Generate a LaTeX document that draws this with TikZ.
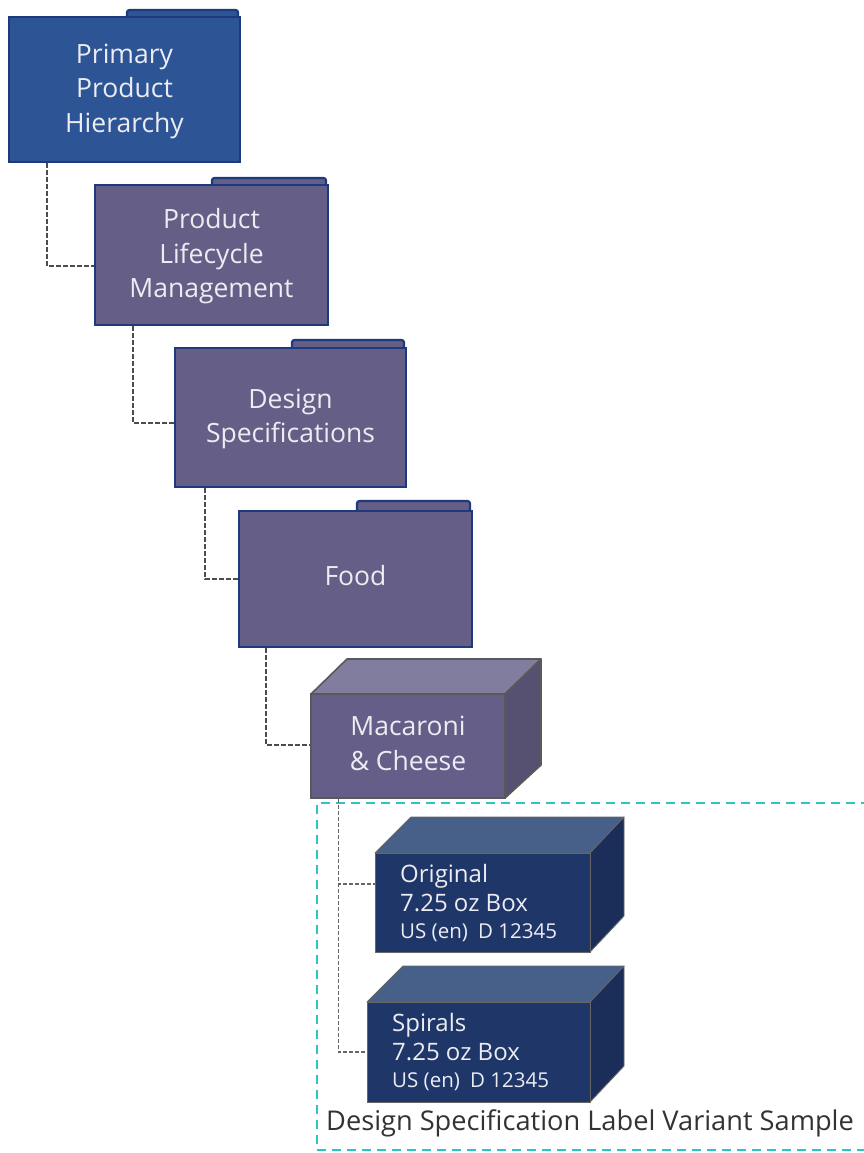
\documentclass[tikz,border=0pt]{standalone}
\usepackage{fontspec}
\setmainfont{Open Sans}
\usetikzlibrary{calc}
\definecolor{navyline}{HTML}{1F3A7C}
\definecolor{rootfill}{HTML}{2D5596}
\definecolor{purplefill}{HTML}{655E86}
\definecolor{boxfront}{HTML}{1F3768}
\definecolor{boxtop}{HTML}{47608A}
\definecolor{boxside}{HTML}{1B2E5A}
\definecolor{macfront}{HTML}{655E88}
\definecolor{mactop}{HTML}{817D9F}
\definecolor{macside}{HTML}{565170}
\definecolor{labeltext}{HTML}{ECECF2}
\definecolor{cyanline}{HTML}{2CC4C8}
\tikzset{
  folderbody/.style={draw=navyline,line width=1.8pt,inner sep=0pt},
  bigtext/.style={inner sep=0pt,align=center,text=labeltext,font=\fontsize{26.5}{34.5}\selectfont},
  foldertab/.style={draw=navyline,line width=2.2pt},
  conn/.style={draw=black!70,line width=1.8pt,dash pattern=on 5pt off 2pt},
  thinconn/.style={draw=black!60,line width=1.3pt,dash pattern=on 4pt off 2pt},
  macface/.style={draw=black!65,line width=1.6pt,line join=round},
  vface/.style={draw=black!60,line width=.9pt,line join=round},
  maclabel/.style={draw=black!65,line width=1.6pt,fill=macfront,inner sep=0pt},
  varbody/.style={draw=black!60,line width=.9pt,fill=boxfront,inner sep=0pt},
  vartext/.style={inner sep=0pt,align=left,text=labeltext,anchor=north west},
}
% #1 name, #2 fill, #3 left, #4 top, #5 right, #6 bottom, #7 tab left, #8 tab top, #9 text
\newcommand{\folderbox}[9]{%
  \path[foldertab,fill=#2,rounded corners=2.5pt] (#7,{#4+2}) -- (#7,#8) -- ({#5-2},#8) -- ({#5-2},{#4+2}) -- cycle;
  \node[folderbody,fill=#2,minimum width=#5pt-#3pt,minimum height=#6pt-#4pt] (#1) at ({(#3+#5)/2},{(#4+#6)/2}) {};
  \node[bigtext] (#1t) at ([yshift=\textlift pt]#1.center) {#9};
}
% #1 name, #2 left, #3 top, #4 right, #5 bottom, #6 first line, #7 small line
\newcommand{\variantbox}[7]{%
  \path[vface,fill=boxtop] (#2,#3) -- ({#2+36},{#3-36}) -- (624,{#3-36}) -- (#4,#3) -- cycle;
  \path[vface,fill=boxside] (#4,#3) -- (624,{#3-36}) -- (624,{#5-36}) -- (#4,#5) -- cycle;
  \node[varbody,minimum width=#4pt-#2pt,minimum height=#5pt-#3pt] (#1) at ({(#2+#4)/2},{(#3+#5)/2}) {};
  \node[vartext] (#1t) at ({#2+25},{#3+11}) {\fontsize{24}{29}\selectfont #6\\[5pt]\fontsize{24}{29}\selectfont 7.25 oz Box\\[11pt]\fontsize{20.5}{29}\selectfont #7};
}
\begin{document}
\begin{tikzpicture}[x=1pt,y=-1pt]
\useasboundingbox (0,0) rectangle (864,1153);
\fill[white] (0,0) rectangle (864,1153);
\def\textlift{-1.5}
\folderbox{f1}{rootfill}{9}{17}{240}{162}{127}{10}{Primary\\Product\\Hierarchy}
\folderbox{f2}{purplefill}{95}{185}{328}{325}{212}{178}{Product\\Lifecycle\\Management}
\folderbox{f3}{purplefill}{175}{348}{406}{487}{292}{340}{Design\\Specifications}
\def\textlift{3}
\folderbox{f4}{purplefill}{239}{511}{472}{647}{357}{501}{Food}
% Macaroni box
\path[macface,fill=mactop] (311,694) -- (347,659) -- (541,659) -- (505,694) -- cycle;
\path[macface,fill=macside] (505,694) -- (541,659) -- (541,765) -- (505,798) -- cycle;
\node[maclabel,minimum width=194pt,minimum height=104pt] (mac) at (408,746) {};
\node[bigtext] (mact) at ([yshift=2.5pt]mac.center) {Macaroni\\\&~Cheese};
% Sample frame
\node[draw=cyanline,line width=2.2pt,dash pattern=on 9pt off 6pt,minimum width=553pt,minimum height=347pt,inner sep=0pt] (frame) at (593.5,976.5) {};
\variantbox{v1}{375}{853}{590}{952}{Original}{US (en)\enspace D 12345}
\variantbox{v2}{367}{1002}{590}{1102}{Spirals}{US (en)\enspace D 12345}
\node[inner sep=0pt,anchor=west,text=black!80,font=\fontsize{27.2}{32}\selectfont] (cap) at (326,1123.5) {Design Specification Label Variant Sample};
% Connectors
\draw[conn] ([xshift=39pt]f1.south west) |- ([yshift=-11pt]f2.west);
\draw[conn] ([xshift=39pt]f2.south west) |- ([yshift=-5.5pt]f3.west);
\draw[conn] ([xshift=31pt]f3.south west) |- ([yshift=0pt]f4.west);
\draw[conn] ([xshift=28pt]f4.south west) |- ([yshift=1pt]mac.west);
\draw[thinconn] ([xshift=28pt]mac.south west) |- ([yshift=18.5pt]v1.west);
\draw[thinconn] ([xshift=28pt]mac.south west) |- (v2.west);
\end{tikzpicture}
\end{document}
